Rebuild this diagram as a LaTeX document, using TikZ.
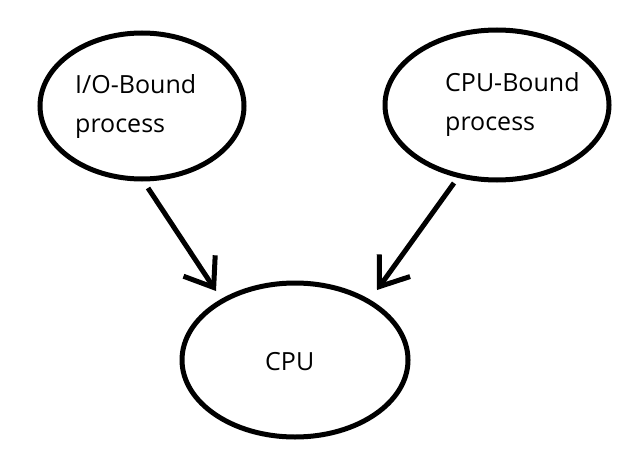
\documentclass[tikz,border=0pt]{standalone}
\usepackage{fontspec}
\setmainfont{Open Sans}
\usetikzlibrary{shapes.geometric, arrows.meta}

\begin{document}
\begin{tikzpicture}[x=1pt, y=-1pt, >={Straight Barb[length=26pt, width=38pt]},
	blob/.style={draw, ellipse, line width=5pt, inner sep=0pt},
	word/.style={anchor=base west, inner sep=0pt, font=\fontsize{25}{39}\selectfont, align=left}]
	\useasboundingbox (0, 0) rectangle (628, 457);

	% the three ellipses
	\node[blob, minimum width=204, minimum height=146] (io) at (142, 106) {};
	\node[blob, minimum width=224, minimum height=150] (cpubound) at (497, 105) {};
	\node[blob, minimum width=226, minimum height=154] (cpu) at (295, 360) {};

	% their texts (base is the last line)
	\node[word] (iotext) at (75, 133) {I/O-Bound\\process};
	\node[word] (cputext) at (445, 131) {CPU-Bound\\process};
	\node[word] (cpulabel) at (265, 370) {CPU};

	% arrows, ending short of the ellipses
	\coordinate (io out) at (148, 188);
	\coordinate (cpu in left) at (216, 291);
	\coordinate (cpubound out) at (454, 183);
	\coordinate (cpu in right) at (377, 290);

	\draw[->, line width=5pt] (io out) -- (cpu in left);
	\draw[->, line width=5pt] (cpubound out) -- (cpu in right);
\end{tikzpicture}
\end{document}
